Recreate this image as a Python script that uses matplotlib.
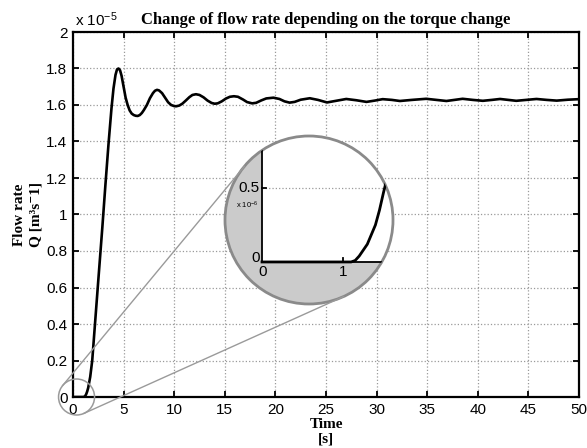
import numpy as np
import matplotlib
matplotlib.use("Agg")
import matplotlib.pyplot as plt
from matplotlib.patches import Circle, Rectangle
from matplotlib.lines import Line2D
from matplotlib.transforms import IdentityTransform

# flow rate Q [x1e-5 m^3/s]
t = [0, 1.0, 1.1, 1.2, 1.3, 1.4, 1.5, 1.7, 1.9, 2.2, 2.5, 2.9, 3.2, 3.5, 3.8, 4.0, 4.2,
     4.35, 4.5, 4.65, 4.8, 5.0, 5.2, 5.4, 5.6, 5.8, 6.0, 6.2, 6.4, 6.6, 6.8, 7.0, 7.3,
     7.6, 7.9, 8.1, 8.3, 8.5, 8.8, 9.1, 9.4, 9.7, 10.0, 10.2, 10.5, 10.8, 11.1, 11.5,
     11.8, 12.15, 12.5, 12.9, 13.3, 13.7, 14.0, 14.3, 14.7, 15.1, 15.5, 15.9, 16.3,
     16.8, 17.2, 17.7, 18.1, 18.6, 19.1, 19.8, 20.4, 20.9, 21.4, 21.9, 22.5, 23.4,
     24.2, 25.1, 25.9, 27.0, 28.0, 29.0, 29.8, 30.6, 31.5, 32.3, 33.5, 34.9, 35.9,
     36.9, 37.7, 38.5, 39.5, 40.5, 41.4, 42.2, 43.0, 43.8, 44.8, 45.8, 46.8, 47.8,
     48.9, 50.0]
q = [0, 0, 0, 0.005, 0.015, 0.03, 0.05, 0.11, 0.2, 0.42, 0.64, 0.93, 1.16, 1.38, 1.58,
     1.69, 1.765, 1.795, 1.80, 1.79, 1.76, 1.70, 1.64, 1.60, 1.57, 1.553, 1.545, 1.541,
     1.540, 1.545, 1.556, 1.572, 1.60, 1.637, 1.665, 1.678, 1.683, 1.680, 1.665, 1.64,
     1.615, 1.600, 1.594, 1.593, 1.597, 1.607, 1.622, 1.643, 1.655, 1.659, 1.655, 1.642,
     1.624, 1.611, 1.607, 1.609, 1.62, 1.635, 1.645, 1.648, 1.645, 1.63, 1.616, 1.609,
     1.612, 1.625, 1.636, 1.640, 1.633, 1.62, 1.613, 1.617, 1.629, 1.637, 1.628, 1.614,
     1.622, 1.633, 1.626, 1.617, 1.624, 1.632, 1.628, 1.622, 1.628, 1.634, 1.628, 1.622,
     1.628, 1.634, 1.628, 1.623, 1.628, 1.633, 1.628, 1.623, 1.628, 1.633, 1.628, 1.624,
     1.629, 1.632]

# zoomed start [x1e-6]
t_zoom = [0, 1.0, 1.1, 1.15, 1.2, 1.3, 1.4, 1.45, 1.5, 1.55, 1.6]
q_zoom = [0, 0, 0, 0.01, 0.04, 0.12, 0.25, 0.35, 0.47, 0.58, 0.7]

x_ticks = np.arange(0, 51, 5)
y_ticks = np.arange(0, 2.01, 0.2)
y_tick_labels = ["0", "0.2", "0.4", "0.6", "0.8", "1", "1.2", "1.4", "1.6", "1.8", "2"]

plt.rcParams["font.family"] = ["Liberation Sans", "DejaVu Sans"]
plt.rcParams["mathtext.fontset"] = "custom"
plt.rcParams["mathtext.rm"] = "Liberation Sans"
plt.rcParams["mathtext.it"] = "Liberation Sans:italic"
plt.rcParams["mathtext.bf"] = "Liberation Sans:bold"
serif = ["Liberation Serif", "DejaVu Serif"]

fig = plt.figure(figsize=(5.87, 4.48), dpi=100)
ax = fig.add_axes([73/587, 51/448, 506/587, 365/448])

ax.plot(t, q, color="black", lw=1.9, zorder=3)
ax.set_xlim(0, 50)
ax.set_ylim(0, 2)
ax.set_xticks(x_ticks)
ax.set_yticks(y_ticks)
ax.set_yticklabels(y_tick_labels)
ax.grid(True, linestyle=":", color="#9a9a9a", lw=0.9)
ax.tick_params(direction="in", top=True, right=True, length=4, width=1.3,
               labelsize=11, pad=4)
for s in ax.spines.values():
    s.set_linewidth(1.6)

ax.text(0.003, 1.008, r"x 10$^{-5}$", transform=ax.transAxes, ha="left", va="bottom",
        fontsize=11)
ax.set_title("Change of flow rate depending on the torque change", family=serif,
             fontweight="bold", fontsize=12, pad=6)
ax.set_xlabel("Time\n[s]", family=serif, fontweight="bold", fontsize=11,
              labelpad=1, linespacing=1.15)
ax.set_ylabel("Flow rate\nQ [m³s⁻1]", family=serif, fontweight="bold", fontsize=11,
              labelpad=3, linespacing=1.3)

# magnifier inset
axi = fig.add_axes([225/587, 144/448, 168/587, 168/448])
axi.set_xlim(-0.457, 1.617)
axi.set_ylim(-0.284, 0.851)
axi.axis("off")
disk = Circle((0.5, 0.5), 0.5, transform=axi.transAxes, facecolor="#cbcbcb",
              edgecolor="none", clip_on=False)
axi.add_patch(disk)
inner = Rectangle((0, 0), 5, 5, facecolor="white", edgecolor="none")
axi.add_patch(inner)
inner.set_clip_path(disk)
g, = axi.plot([0, 5], [0.5, 0.5], linestyle=":", color="#9a9a9a", lw=0.9)
g.set_clip_path(disk)
for xs, ys in [([0, 0], [0, 5]), ([0, 5], [0, 0]), ([0, 0.05], [0.5, 0.5]),
               ([1, 1], [0, 0.027])]:
    ln, = axi.plot(xs, ys, color="black", lw=1.3)
    ln.set_clip_path(disk)
cz, = axi.plot(t_zoom, q_zoom, color="black", lw=2)
cz.set_clip_path(disk)
axi.add_patch(Circle((0.5, 0.5), 0.5, transform=axi.transAxes, facecolor="none",
                     edgecolor="#8a8a8a", lw=2, clip_on=False))
axi.text(-0.03, 0.5, "0.5", ha="right", va="center", fontsize=11)
axi.text(-0.04, 0.42, r"x 10$^{-6}$", ha="right", va="top", fontsize=5.5)
axi.text(-0.03, 0.03, "0", ha="right", va="center", fontsize=11)
axi.text(0.01, -0.02, "0", ha="center", va="top", fontsize=11)
axi.text(1.0, -0.02, "1", ha="center", va="top", fontsize=11)

# small circle at origin and connecting tangent lines
fig.canvas.draw()
c1 = ax.transData.transform((0.35, 0))
r1 = 18
c2 = axi.transAxes.transform((0.5, 0.5))
r2 = 84
fig.add_artist(Circle(c1, r1, transform=IdentityTransform(), fill=False,
                      edgecolor="#9a9a9a", lw=1.1))
d = c2 - c1
D = np.hypot(*d)
base = np.arctan2(d[1], d[0])
phi = np.arccos((r1 - r2) / D)
for sgn in (1, -1):
    n = np.array([np.cos(base + sgn*phi), np.sin(base + sgn*phi)])
    p1 = c1 + r1*n
    p2 = c2 + r2*n
    fig.add_artist(Line2D([p1[0], p2[0]], [p1[1], p2[1]], transform=IdentityTransform(),
                          color="#9a9a9a", lw=1.0))

fig.savefig("out.png", dpi=100)
